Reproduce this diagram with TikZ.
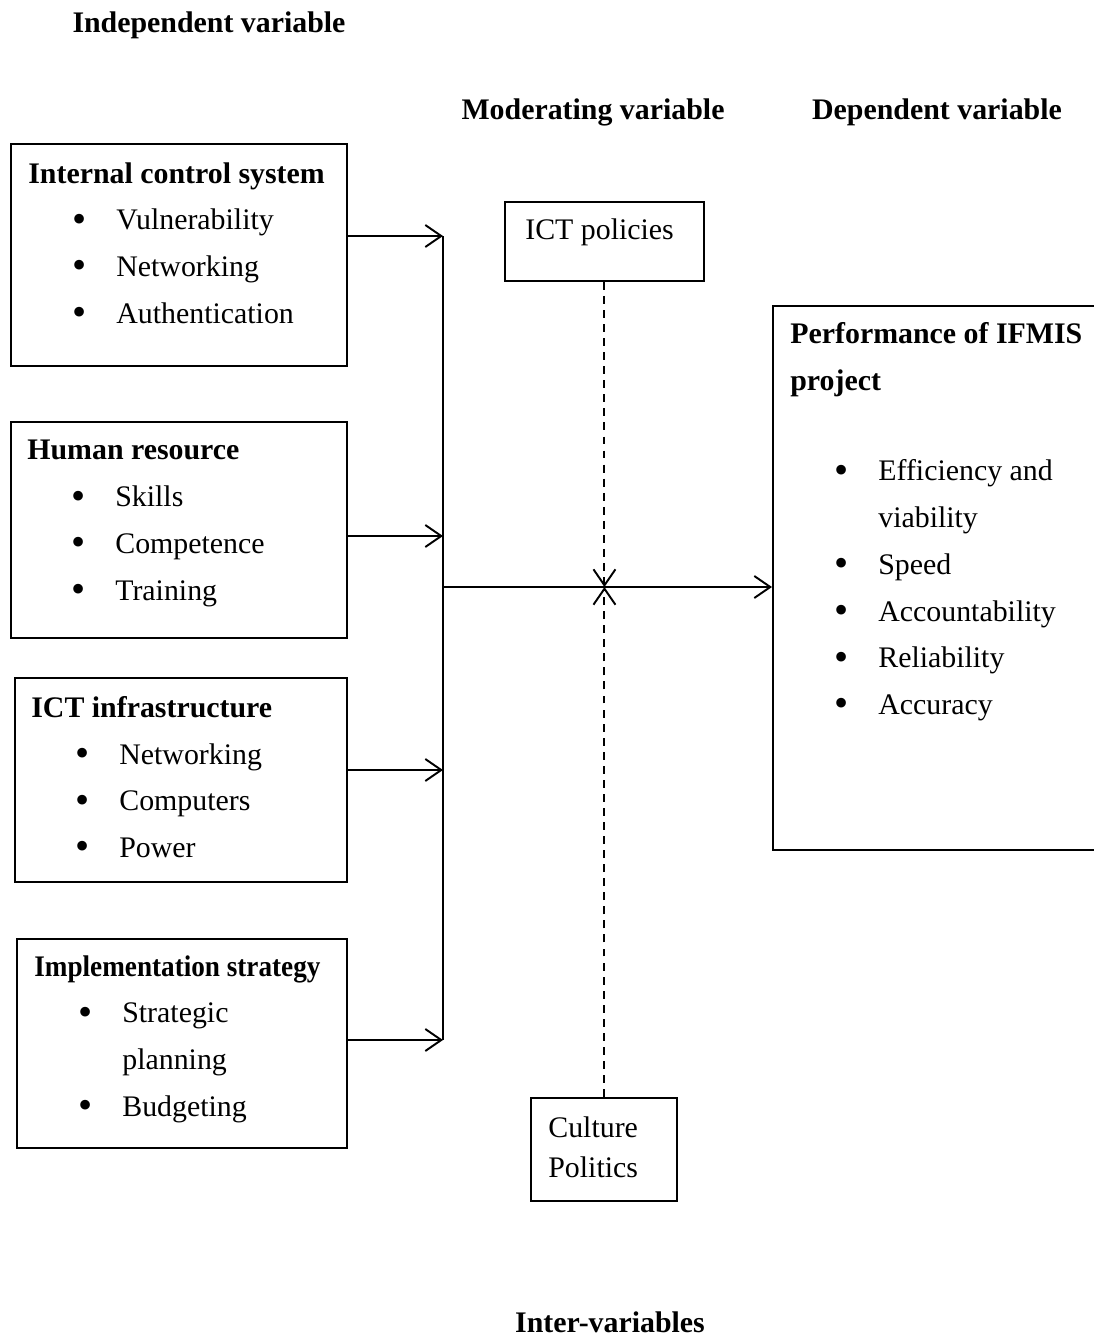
\documentclass[tikz,border=0pt]{standalone}
\usepackage{fontspec}
\setmainfont{Liberation Serif}
\usetikzlibrary{arrows.meta}
\newcommand{\bitem}[1]{\hspace*{0.88cm}\makebox[0.88cm][l]{\raisebox{-0.08em}{\scalebox{1.35}{\textbullet}}}#1}
\newcommand{\bcont}[1]{\hspace*{1.76cm}#1}

\begin{document}
\begin{tikzpicture}[x=0.02cm,y=-0.02cm,
    box/.style={draw,line width=1.1pt,rectangle,anchor=north west,inner sep=0pt},
    txt/.style={anchor=north west,inner sep=0pt,align=left,font=\fontsize{17}{26.6}\selectfont},
    head/.style={font=\fontsize{17}{20}\selectfont\bfseries}]
\clip (0,0) rectangle (1094,1339);

\node[head] (indep) at (209,25) {Independent variable};
\node[head] (moder) at (593,112) {Moderating variable};
\node[head] (depen) at (937,112) {Dependent variable};
\node[head] (inter) at (610,1322) {Inter-variables};

\begin{scope}[every node/.style={box}]
    \node[minimum width=6.72cm,minimum height=4.44cm] (ics) at (10,143) {};
    \node[minimum width=6.72cm,minimum height=4.32cm] (hr) at (10,421) {};
    \node[minimum width=6.64cm,minimum height=4.08cm] (infra) at (14,677) {};
    \node[minimum width=6.60cm,minimum height=4.18cm] (impl) at (16,938) {};
    \node[minimum width=3.98cm,minimum height=1.58cm] (pol) at (504,201) {};
    \node[minimum width=2.92cm,minimum height=2.06cm] (cult) at (530,1097) {};
    \node[minimum width=6.56cm,minimum height=10.88cm] (perf) at (772,305) {};
\end{scope}

\begin{scope}[every node/.style={txt}]
    \node (icstxt) at (28,162) {\textbf{Internal control system}\\
        \bitem{Vulnerability}\\ \bitem{Networking}\\ \bitem{Authentication}};
    \node (hrtxt) at (27,440) {\textbf{Human resource}\\
        \bitem{Skills}\\ \bitem{Competence}\\ \bitem{Training}};
    \node (infratxt) at (31,696) {\textbf{ICT infrastructure}\\
        \bitem{Networking}\\ \bitem{Computers}\\ \bitem{Power}};
    \node (impltxt) at (34,955) {\textbf{\scalebox{0.91}[1]{Implementation strategy}}\\
        \bitem{Strategic}\\ \bcont{planning}\\ \bitem{Budgeting}};
    \node (poltxt) at (525,218) {ICT policies};
    \node[font=\fontsize{17}{23}\selectfont] (culttxt) at (548,1116) {Culture\\ Politics};
    \node (perftxt) at (790,322) {\textbf{Performance of IFMIS}\\ \textbf{project}\\[0.88cm]
        \bitem{Efficiency and}\\ \bcont{viability}\\ \bitem{Speed}\\
        \bitem{Accountability}\\ \bitem{Reliability}\\ \bitem{Accuracy}};
\end{scope}

\coordinate (t1) at (443,236);
\coordinate (t2) at (443,536);
\coordinate (t3) at (443,770);
\coordinate (t4) at (443,1040);
\coordinate (mid) at (443,587);
\coordinate (cross) at (pol.south |- mid);

\begin{scope}[>={Straight Barb[length=3.2mm,width=4.4mm]},line width=1.1pt]
    \draw[->] (ics.east |- t1) -- (t1);
    \draw[->] (hr.east |- t2) -- (t2);
    \draw[->] (infra.east |- t3) -- (t3);
    \draw[->] (impl.east |- t4) -- (t4);
    \draw (t1) -- (t4);
    \draw[->] (mid) -- (perf.west |- mid);
    \draw[->,dash pattern=on 4.5pt off 3.5pt] (pol.south) -- (cross);
    \draw[->,dash pattern=on 4.5pt off 3.5pt] (cult.north -| cross) -- (cross);
\end{scope}

\end{tikzpicture}
\end{document}
